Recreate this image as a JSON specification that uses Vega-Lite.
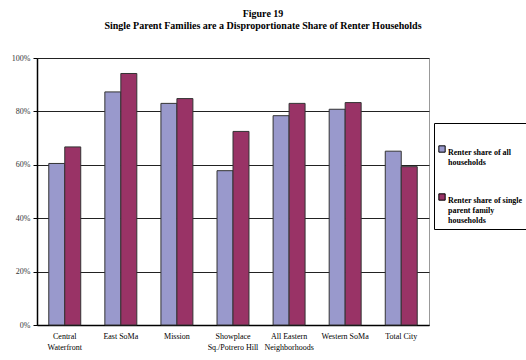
{
  "$schema": "https://vega.github.io/schema/vega-lite/v6.json",
  "width": 392,
  "height": 267,
  "autosize": "none",
  "padding": {"left": 37, "top": 58, "right": 97, "bottom": 35},
  "background": "white",
  "title": {
    "text": ["Figure 19", "Single Parent Families are a Disproportionate Share of Renter Households"],
    "font": "Liberation Serif",
    "fontSize": 10,
    "fontWeight": "bold",
    "color": "black",
    "anchor": "middle",
    "dx": 30,
    "offset": 23,
    "lineHeight": 12
  },
  "data": {
    "values": [
      {"area": "Central Waterfront", "series": "Renter share of all households", "value": 0.605},
      {"area": "Central Waterfront", "series": "Renter share of single parent family households", "value": 0.667},
      {"area": "East SoMa", "series": "Renter share of all households", "value": 0.873},
      {"area": "East SoMa", "series": "Renter share of single parent family households", "value": 0.942},
      {"area": "Mission", "series": "Renter share of all households", "value": 0.83},
      {"area": "Mission", "series": "Renter share of single parent family households", "value": 0.848},
      {"area": "Showplace Sq./Potrero Hill", "series": "Renter share of all households", "value": 0.578},
      {"area": "Showplace Sq./Potrero Hill", "series": "Renter share of single parent family households", "value": 0.725},
      {"area": "All Eastern Neighborhoods", "series": "Renter share of all households", "value": 0.784},
      {"area": "All Eastern Neighborhoods", "series": "Renter share of single parent family households", "value": 0.83},
      {"area": "Western SoMa", "series": "Renter share of all households", "value": 0.808},
      {"area": "Western SoMa", "series": "Renter share of single parent family households", "value": 0.833},
      {"area": "Total City", "series": "Renter share of all households", "value": 0.651},
      {"area": "Total City", "series": "Renter share of single parent family households", "value": 0.593}
    ]
  },
  "mark": {"type": "bar", "stroke": "#333333", "strokeWidth": 1},
  "encoding": {
    "x": {
      "field": "area",
      "type": "nominal",
      "sort": null,
      "title": null,
      "scale": {"paddingInner": 0.43, "paddingOuter": 0.21},
      "axis": {
        "labelAngle": 0,
        "labelFont": "Liberation Serif",
        "labelFontSize": 8,
        "labelColor": "black",
        "labelExpr": "datum.label == 'Central Waterfront' ? ['Central', 'Waterfront'] : datum.label == 'Showplace Sq./Potrero Hill' ? ['Showplace', 'Sq./Potrero Hill'] : datum.label == 'All Eastern Neighborhoods' ? ['All Eastern', 'Neighborhoods'] : datum.label",
        "labelPadding": 7,
        "labelLineHeight": 11,
        "ticks": false,
        "domainColor": "black",
        "domainWidth": 1.5
      }
    },
    "xOffset": {"field": "series", "type": "nominal", "scale": {"paddingInner": 0}},
    "y": {
      "field": "value",
      "type": "quantitative",
      "title": null,
      "scale": {"domain": [0, 1]},
      "axis": {
        "format": ".0%",
        "values": [0, 0.2, 0.4, 0.6, 0.8, 1],
        "labelFont": "Liberation Serif",
        "labelFontSize": 8,
        "labelColor": "#333333",
        "labelPadding": 3,
        "tickSize": 4,
        "tickColor": "black",
        "domainColor": "black",
        "domainWidth": 1.5,
        "grid": true,
        "gridColor": "#222222",
        "gridWidth": 1
      }
    },
    "color": {
      "field": "series",
      "type": "nominal",
      "scale": {"range": ["#9999CC", "#993366"]},
      "legend": {
        "title": null,
        "orient": "none",
        "legendX": 397,
        "legendY": 65,
        "strokeColor": "black",
        "padding": 4,
        "clipHeight": 44,
        "symbolType": "square",
        "symbolSize": 40,
        "symbolStrokeColor": "black",
        "symbolStrokeWidth": 1,
        "labelFont": "Liberation Serif",
        "labelFontSize": 8,
        "labelFontWeight": "bold",
        "labelColor": "black",
        "labelBaseline": "top",
        "labelOffset": 2,
        "labelLineHeight": 9,
        "labelLimit": 200,
        "rowPadding": 4,
        "labelExpr": "datum.label == 'Renter share of all households' ? ['Renter share of all', 'households'] : ['Renter share of single', 'parent family', 'households']"
      }
    }
  },
  "config": {
    "view": {"stroke": "#999999", "strokeWidth": 1}
  }
}
